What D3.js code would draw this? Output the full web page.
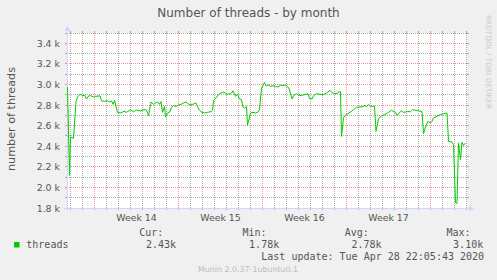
<!DOCTYPE html>
<html>
<head>
<meta charset="utf-8">
<script src="https://cdn.jsdelivr.net/npm/d3@7"></script>
<style>
  body { margin: 0; background: #f0f0f0; }
  svg { display: block; }
</style>
</head>
<body>
<div id="chart"></div>
<script>
// chart text
var title = "Number of threads - by month";
var yLabel = "number of threads";
var seriesName = "threads";
var watermark = "RRDTOOL / TOBI OETIKER";
var footer = "Munin 2.0.37-1ubuntu0.1";
var lastUpdate = "Last update: Tue Apr 28 22:05:43 2020";

// y axis labels (threads)
var yTicks = [1800, 2000, 2200, 2400, 2600, 2800, 3000, 3200, 3400];
var yDomain = [1800, 3500];

// time window shown (UTC, "YYYY-MM-DD HH")
var timeDomain = ["2020-03-27 17", "2020-04-30 01"];

// legend stats
var statLabels = ["Cur:", "Min:", "Avg:", "Max:"];
var statValues = ["2.43k", "1.78k", "2.78k", "3.10k"];

// samples ("MM-DD HH", 2020)
var times = [
  "03-27 18","03-27 22","03-28 00","03-28 06","03-28 11","03-28 15","03-28 19","03-29 00","03-29 04","03-29 08",
  "03-29 11","03-29 16","03-29 22","03-30 02","03-30 11","03-30 14","03-30 20","03-31 02","03-31 06","03-31 10",
  "03-31 13","03-31 16","03-31 22","04-01 04","04-01 11","04-01 16","04-02 00","04-02 06","04-02 12","04-02 19",
  "04-03 03","04-03 07","04-03 10","04-03 12","04-03 17","04-03 22","04-04 02","04-04 06","04-04 10","04-04 13",
  "04-04 16","04-04 20","04-04 22","04-05 02","04-05 07","04-05 10","04-05 14","04-05 19","04-06 00","04-06 05",
  "04-06 10","04-06 15","04-06 20","04-07 01","04-07 06","04-07 11","04-07 14","04-07 18","04-07 23","04-08 04",
  "04-08 10","04-08 17","04-08 20","04-08 22","04-09 03","04-09 08","04-09 13","04-09 18","04-09 22","04-10 00",
  "04-10 06","04-10 10","04-10 13","04-10 18","04-10 22","04-11 02","04-11 06","04-11 09","04-11 12","04-11 16",
  "04-11 18","04-12 00","04-12 05","04-12 10","04-12 15","04-12 18","04-12 22","04-13 01","04-13 04","04-13 08",
  "04-13 11","04-13 16","04-13 21","04-14 02","04-14 07","04-14 12","04-14 17","04-14 22","04-15 02","04-15 05",
  "04-15 08","04-15 11","04-15 14","04-15 20","04-16 00","04-16 06","04-16 11","04-16 19","04-16 22","04-17 03",
  "04-17 06","04-17 12","04-17 19","04-18 02","04-18 08","04-18 15","04-18 20","04-19 03","04-19 10","04-19 12",
  "04-19 14","04-19 18","04-19 23","04-20 07","04-20 14","04-20 20","04-21 03","04-21 10","04-21 13","04-21 16",
  "04-21 20","04-22 00","04-22 08","04-22 11","04-22 16","04-22 22","04-23 05","04-23 12","04-23 18","04-24 02",
  "04-24 05","04-24 10","04-24 14","04-24 18","04-25 01","04-25 08","04-25 12","04-25 19","04-26 02","04-26 07",
  "04-26 10","04-26 14","04-26 19","04-27 00","04-27 03","04-27 06","04-27 13","04-27 20","04-28 02","04-28 09",
  "04-28 12","04-28 19","04-28 22","04-29 02","04-29 05","04-29 08","04-29 12","04-29 15","04-29 18","04-29 22"
];

var threads = [
  2975,2118,2490,2478,2836,2884,2907,2890,2897,2859,
  2884,2893,2878,2884,2890,2842,2836,2842,2830,2840,
  2807,2846,2729,2723,2739,2729,2755,2736,2752,2742,
  2755,2755,2729,2697,2830,2807,2820,2830,2807,2833,
  2729,2787,2684,2723,2736,2781,2794,2787,2801,2807,
  2820,2830,2810,2801,2810,2820,2787,2749,2729,2723,
  2729,2736,2749,2846,2869,2901,2917,2926,2917,2904,
  2910,2917,2939,2884,2907,2859,2852,2781,2771,2787,
  2604,2723,2729,2723,2733,2755,2965,2988,3020,2981,
  2997,2981,2988,2981,2975,2994,2988,2997,2975,2965,
  2910,2859,2891,2910,2897,2891,2901,2910,2865,2859,
  2891,2910,2904,2901,2917,2943,2917,2910,2930,2930,
  2496,2675,2707,2729,2755,2778,2781,2787,2797,2781,
  2807,2787,2790,2545,2665,2697,2707,2729,2749,2729,
  2697,2729,2742,2729,2736,2736,2755,2749,2742,2736,
  2522,2588,2642,2626,2642,2675,2691,2707,2716,2723,
  2448,2439,2416,1850,1845,2432,2270,2439,2407,2432
];

// layout (munin default 400x175 canvas)
var W = 497, H = 280;
var plot = { left: 67, top: 33, width: 400, height: 175 };
var textColor = "#555";
var axisColor = "#cfd6f8";
var gridColor = "rgba(143,143,143,0.75)";
var mgridColor = "rgba(222,79,79,0.6)";
var lineColor = "#00cc00";
var sans = "DejaVu Sans, sans-serif";
var mono = "DejaVu Sans Mono, monospace";

var parseTime = d3.utcParse("%Y-%m-%d %H");
var data = times.map(function(t, i) {
  return { date: parseTime("2020-" + t), value: threads[i] };
});

var x = d3.scaleUtc()
  .domain(timeDomain.map(parseTime))
  .range([plot.left, plot.left + plot.width]);

var y = d3.scaleLinear()
  .domain(yDomain)
  .range([plot.top + plot.height, plot.top]);

// snap to pixel centres so 1px lines stay sharp
function px(v) { return Math.round(v - 0.5) + 0.5; }

var svg = d3.select("#chart").append("svg")
  .attr("width", W)
  .attr("height", H);

svg.append("rect")
  .attr("width", W).attr("height", H)
  .attr("fill", "#f0f0f0");

// canvas
svg.append("rect")
  .attr("x", plot.left).attr("y", plot.top)
  .attr("width", plot.width).attr("height", plot.height)
  .attr("fill", "#fff");

var x0 = plot.left, x1 = plot.left + plot.width;
var y0 = plot.top, y1 = plot.top + plot.height;

var grid = svg.append("g").attr("shape-rendering", "crispEdges");

function hGrid(v, color) {
  var yy = px(y(v));
  grid.append("line").attr("x1", x0).attr("x2", x1).attr("y1", yy).attr("y2", yy)
    .attr("stroke", color).attr("stroke-dasharray", "1,1");
  grid.append("line").attr("x1", x0 - 2).attr("x2", x0).attr("y1", yy).attr("y2", yy).attr("stroke", color);
  grid.append("line").attr("x1", x1).attr("x2", x1 + 2).attr("y1", yy).attr("y2", yy).attr("stroke", color);
}

function vGrid(d, color) {
  var xx = px(x(d));
  grid.append("line").attr("x1", xx).attr("x2", xx).attr("y1", y0).attr("y2", y1)
    .attr("stroke", color).attr("stroke-dasharray", "1,1");
  grid.append("line").attr("x1", xx).attr("x2", xx).attr("y1", y0 - 2).attr("y2", y0).attr("stroke", color);
  grid.append("line").attr("x1", xx).attr("x2", xx).attr("y1", y1).attr("y2", y1 + 2).attr("stroke", color);
}

// minor grid: every 100 threads, every day
y.ticks(17).forEach(function(v) {
  if (yTicks.indexOf(v) < 0) hGrid(v, gridColor);
});
var mondays = d3.utcMonday.range(x.domain()[0], x.domain()[1]);
d3.utcDay.range(x.domain()[0], x.domain()[1]).forEach(function(d) {
  if (d.getUTCDay() !== 1) vGrid(d, gridColor);
});

// major grid
yTicks.forEach(function(v) { hGrid(v, mgridColor); });
mondays.forEach(function(d) { vGrid(d, mgridColor); });

// axes with arrows
var axes = svg.append("g");
axes.append("line")
  .attr("x1", px(x0)).attr("x2", px(x0))
  .attr("y1", y1 + 3).attr("y2", y0 - 4)
  .attr("stroke", axisColor).attr("shape-rendering", "crispEdges");
axes.append("line")
  .attr("x1", x0 - 3).attr("x2", x1 + 4)
  .attr("y1", px(y1)).attr("y2", px(y1))
  .attr("stroke", axisColor).attr("shape-rendering", "crispEdges");
axes.append("path")
  .attr("d", "M" + (px(x0) - 3) + "," + (y0 - 2) + "L" + (px(x0) + 3) + "," + (y0 - 2) + "L" + px(x0) + "," + (y0 - 7) + "Z")
  .attr("fill", axisColor);
axes.append("path")
  .attr("d", "M" + (x1 + 2) + "," + (px(y1) - 3) + "L" + (x1 + 2) + "," + (px(y1) + 3) + "L" + (x1 + 7) + "," + px(y1) + "Z")
  .attr("fill", axisColor);

// y tick labels
svg.append("g").selectAll("text")
  .data(yTicks)
  .enter().append("text")
  .attr("x", 60)
  .attr("y", function(d) { return px(y(d)) + 3.3; })
  .attr("text-anchor", "end")
  .attr("font-family", sans).attr("font-size", "9.4px")
  .attr("fill", textColor)
  .text(function(d) { return d3.format(".1f")(d / 1000) + " k"; });

// week labels, centred in each week
var weekFmt = d3.utcFormat("%V");
svg.append("g").selectAll("text")
  .data(mondays.slice(0, mondays.length - 1))
  .enter().append("text")
  .attr("x", function(d) { return x(d3.utcHour.offset(d, 84)); })
  .attr("y", 220.5)
  .attr("text-anchor", "middle")
  .attr("font-family", sans).attr("font-size", "9.4px")
  .attr("fill", textColor)
  .text(function(d) { return "Week " + weekFmt(d); });

// series
var line = d3.line()
  .x(function(d) { return x(d.date); })
  .y(function(d) { return y(d.value); });

svg.append("path")
  .datum(data)
  .attr("d", line)
  .attr("fill", "none")
  .attr("stroke", lineColor)
  .attr("stroke-width", 1)
  .attr("stroke-linejoin", "round");

// title and axis label
svg.append("text")
  .attr("x", 248.5).attr("y", 17)
  .attr("text-anchor", "middle")
  .attr("font-family", sans).attr("font-size", "12px")
  .attr("fill", textColor)
  .text(title);

svg.append("text")
  .attr("transform", "translate(15," + 119 + ") rotate(-90)")
  .attr("text-anchor", "middle")
  .attr("font-family", sans).attr("font-size", "11.2px")
  .attr("fill", textColor)
  .text(yLabel);

svg.append("text")
  .attr("transform", "translate(486,15) rotate(90)")
  .attr("font-family", sans).attr("font-size", "7.3px")
  .attr("fill", "#cccccc")
  .text(watermark);

// legend
var legend = svg.append("g")
  .attr("font-family", mono).attr("font-size", "10px")
  .attr("fill", textColor);

legend.append("rect")
  .attr("x", 14).attr("y", 242)
  .attr("width", 5.5).attr("height", 5.5)
  .attr("fill", lineColor);

legend.append("text").attr("x", 26.3).attr("y", 248.3).text(seriesName);

var statX = [139.3, 242.5, 344.8, 446.5];
statLabels.forEach(function(s, i) {
  legend.append("text").attr("x", statX[i]).attr("y", 236.3).text(s);
  legend.append("text").attr("x", statX[i] + 6.6).attr("y", 248.3).text(statValues[i]);
});

legend.append("text").attr("x", 261.3).attr("y", 260.3).text(lastUpdate);

svg.append("text")
  .attr("x", 248).attr("y", 272)
  .attr("text-anchor", "middle")
  .attr("font-family", sans).attr("font-size", "7.9px")
  .attr("fill", "#bbb")
  .text(footer);
</script>
</body>
</html>
